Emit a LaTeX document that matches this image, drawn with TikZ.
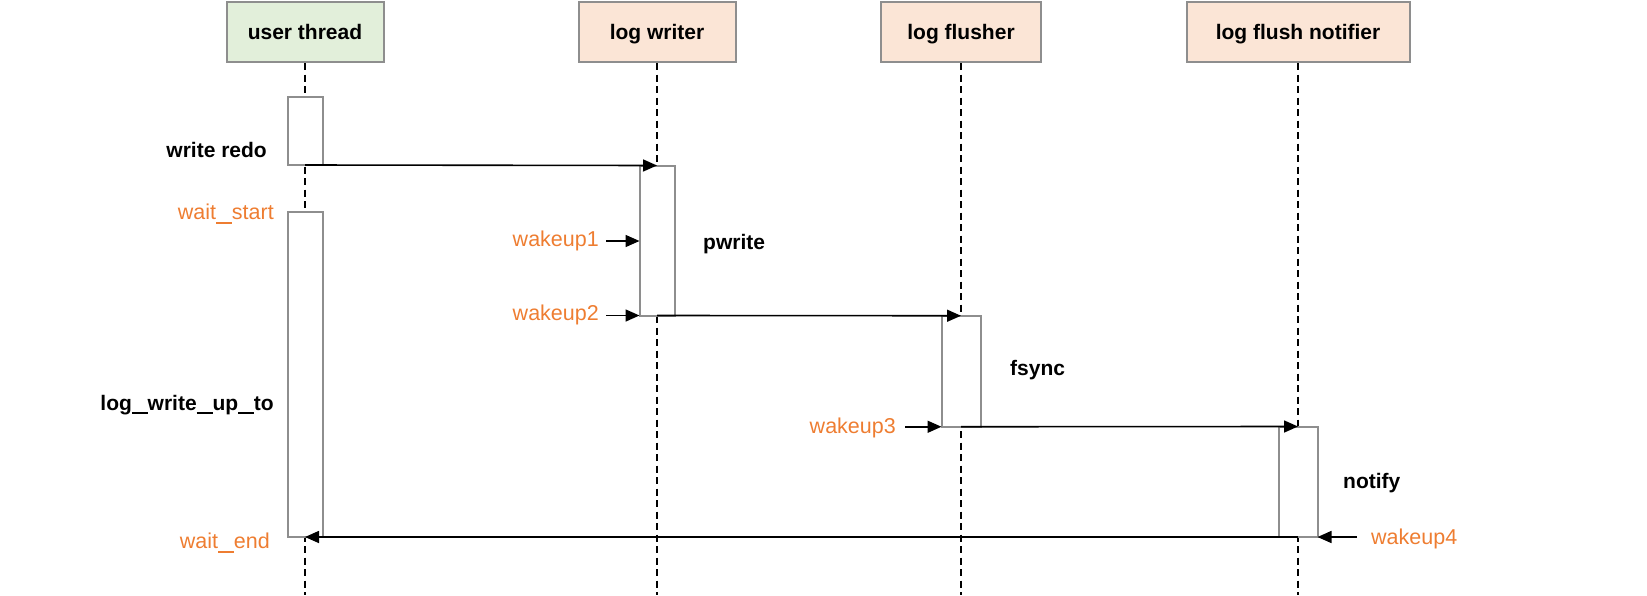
\documentclass[tikz,border=0pt]{standalone}
\usepackage{fontspec}
\setmainfont{Liberation Sans}
\usepackage{tikz}
\usetikzlibrary{positioning}
\usetikzlibrary{arrows.meta}
\usepackage{xcolor}
\definecolor{hdrgreen}{HTML}{E2EFDA}
\definecolor{hdrsalmon}{HTML}{FBE5D6}
\definecolor{boxgray}{HTML}{8E8E8E}
\definecolor{wkorange}{HTML}{EE7D31}
\newcommand{\uscore}{\rule[-3.6pt]{15.8pt}{1.7pt}}
\tikzset{
  header/.style={draw=boxgray,line width=2pt,minimum height=60pt,text height=15pt,text depth=1pt,font=\fontsize{21}{24}\selectfont\bfseries},
  actbox/.style={draw=boxgray,fill=white,line width=2pt,minimum width=35pt,inner sep=0pt,outer sep=0pt},
  lifeline/.style={line width=1.6pt,dash pattern=on 7pt off 4.5pt},
  msg/.style={->,line width=1.6pt},
  oplabel/.style={font=\fontsize{21}{24}\selectfont\bfseries,inner sep=0pt},
  wklabel/.style={text=wkorange,font=\fontsize{21.5}{24}\selectfont,inner sep=0pt}
}

\begin{document}
\begin{tikzpicture}[x=1pt,y=-1pt,>={Triangle[length=14pt,width=12pt]}]
  \useasboundingbox (0,0) rectangle (1647,595);
  % participants
  \node[header,fill=hdrgreen,minimum width=157pt] (ut) at (305,32) {user thread};
  \node[header,fill=hdrsalmon,minimum width=157pt] (lwr) at (657,32) {log writer};
  \node[header,fill=hdrsalmon,minimum width=160pt] (lfl) at (961,32) {log flusher};
  \node[header,fill=hdrsalmon,minimum width=223pt] (lfn) at (1298,32) {log flush notifier};
  % lifelines
  \coordinate (utend) at (305,595);
  \coordinate (lwrend) at (657,595);
  \coordinate (lflend) at (961,595);
  \coordinate (lfnend) at (1298,595);
  \draw[lifeline] (ut.south) -- (utend);
  \draw[lifeline] (lwr.south) -- (lwrend);
  \draw[lifeline] (lfl.south) -- (lflend);
  \draw[lifeline] (lfn.south) -- (lfnend);
  % activations
  \node[actbox,minimum height=68pt] (ua1) at (305,131) {};
  \node[actbox,minimum height=325pt] (ua2) at (305,374.5) {};
  \node[actbox,minimum height=150pt] (lw) at (657,240.5) {};
  \node[actbox,minimum height=111pt,minimum width=39pt] (lf) at (961,371.25) {};
  \node[actbox,minimum height=110.5pt,minimum width=39pt] (ln) at (1298,481.75) {};
  % operation labels
  \node[oplabel,anchor=east] (wredo) at (267,150) {write redo};
  \node[oplabel,anchor=east] (lwut) at (274,405) {log\uscore write\uscore up\uscore to};
  \node[oplabel,anchor=west] (pw) at (703,244) {pwrite};
  \node[oplabel,anchor=west] (fs) at (1010,370) {fsync};
  \node[oplabel,anchor=west] (nt) at (1343,483) {notify};
  % messages
  \draw[msg] (ua1.south) -- (lw.north);
  \draw[msg] (lw.south) -- (lf.north);
  \draw[msg] (lf.south) -- (ln.north);
  \draw[msg] (ln.south) -- (ua2.south);
  % wait points
  \node[wklabel,anchor=east] (wst) at (274,214) {wait\uscore start};
  \node[wklabel,anchor=east] (wend) at (270,543) {wait\uscore end};
  % wakeups
  \node[wklabel,anchor=east] (wk1) at (599,241) {wakeup1};
  \node[wklabel,anchor=east] (wk2) at (599,315) {wakeup2};
  \node[wklabel,anchor=east] (wk3) at (896,428) {wakeup3};
  \node[wklabel,anchor=west] (wk4) at (1371,539) {wakeup4};
  \draw[msg] ([xshift=7pt]wk1.east) -- (wk1.east -| lw.west);
  \draw[msg] ([xshift=7pt]wk2.east |- lw.south) -- (lw.south west);
  \draw[msg] ([xshift=9pt]wk3.east |- lf.south) -- (lf.south west);
  \draw[msg] ([xshift=-14pt]wk4.west |- ln.south) -- (ln.south east);
\end{tikzpicture}
\end{document}
